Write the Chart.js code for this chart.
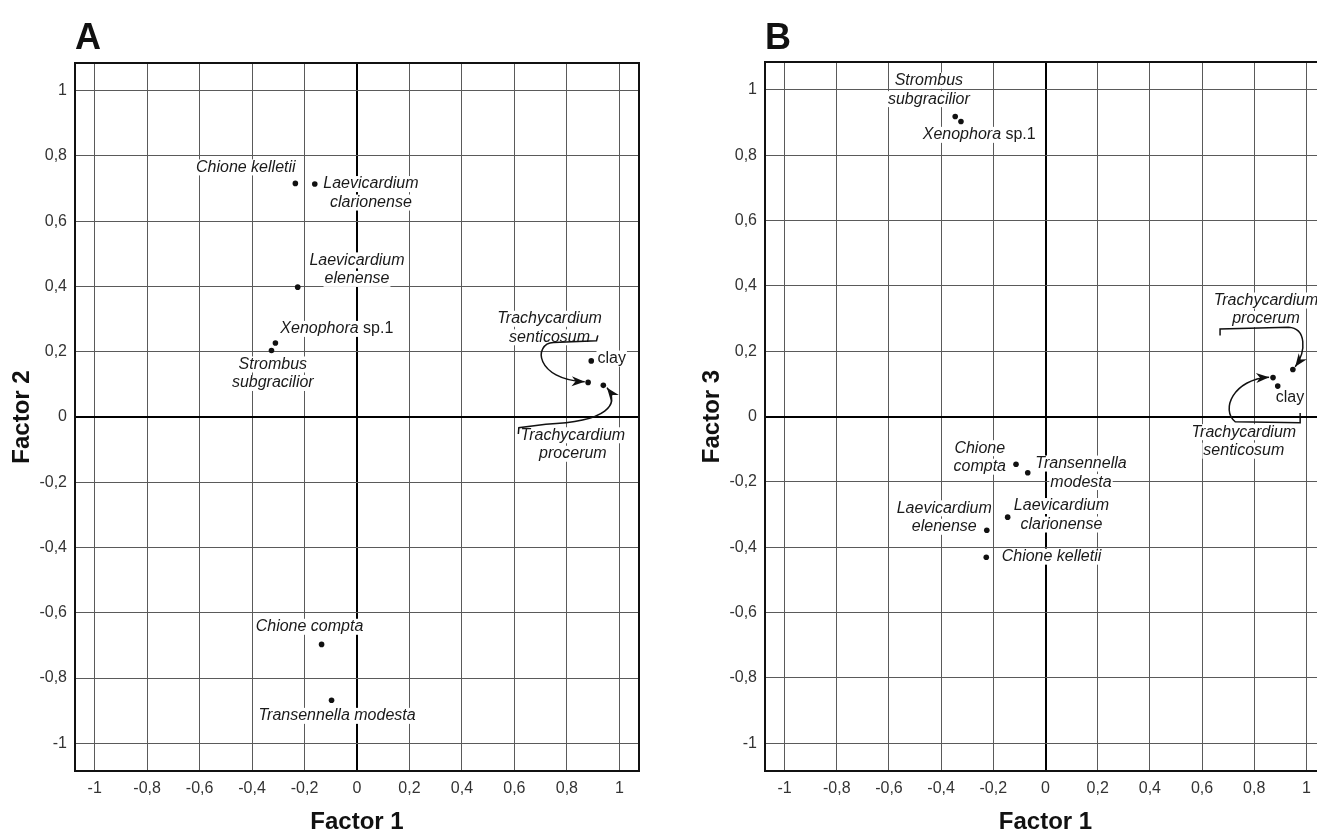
<!DOCTYPE html>
<html>
<head>
<meta charset="utf-8">
<script src="https://cdn.jsdelivr.net/npm/chart.js@4.4.1/dist/chart.umd.min.js"></script>
<style>
  html, body { margin: 0; padding: 0; background: #fff; overflow: hidden; width: 1317px; height: 834px; }
  .panel { position: absolute; top: 0; width: 660px; height: 834px; }
  #panelA { left: 0; }
  #panelB { left: 690px; }
  .letter { position: absolute; top: 19px; font: bold 36px 'Liberation Sans', Arial, sans-serif; line-height: 36px; color: #111; }
</style>
</head>
<body>
<div class="panel" id="panelA"><canvas id="chartA" width="660" height="834"></canvas></div>
<div class="panel" id="panelB"><canvas id="chartB" width="660" height="834"></canvas></div>
<div class="letter" style="left:75px">A</div>
<div class="letter" style="left:765px">B</div>
<script>
const FONT = "'Liberation Sans', Arial, sans-serif";

const species = ['Chione kelletii', 'Laevicardium clarionense', 'Laevicardium elenense', 'Xenophora sp.1',
  'Strombus subgracilior', 'Chione compta', 'Transennella modesta', 'Trachycardium senticosum',
  'Trachycardium procerum', 'clay'];

// Panel A: Factor 1 vs Factor 2
const factor1A = [-0.235, -0.161, -0.226, -0.311, -0.326, -0.135, -0.097, 0.881, 0.939, 0.893];
const factor2A = [0.716, 0.714, 0.398, 0.227, 0.204, -0.697, -0.868, 0.106, 0.097, 0.172];
// Panel B: Factor 1 vs Factor 3
const factor1B = [-0.227, -0.145, -0.225, -0.324, -0.346, -0.113, -0.068, 0.872, 0.948, 0.890];
const factor3B = [-0.431, -0.308, -0.348, 0.903, 0.918, -0.146, -0.172, 0.119, 0.144, 0.093];

const tickValues = [-1, -0.8, -0.6, -0.4, -0.2, 0, 0.2, 0.4, 0.6, 0.8, 1];
const uprightWords = ['sp.1', 'clay'];

// label placement: species index, text lines, centre of first line (data units)
const labelsA = [
  { i: 0, lines: ['Chione kelletii'], at: [-0.424, 0.765] },
  { i: 1, lines: ['Laevicardium', 'clarionense'], at: [0.053, 0.714] },
  { i: 2, lines: ['Laevicardium', 'elenense'], at: [0.0, 0.48] },
  { i: 3, lines: ['Xenophora sp.1'], at: [-0.077, 0.27] },
  { i: 4, lines: ['Strombus', 'subgracilior'], at: [-0.321, 0.161] },
  { i: 5, lines: ['Chione compta'], at: [-0.181, -0.643] },
  { i: 6, lines: ['Transennella modesta'], at: [-0.076, -0.916] },
  { i: 7, lines: ['Trachycardium', 'senticosum'], at: [0.734, 0.301] },
  { i: 8, lines: ['Trachycardium', 'procerum'], at: [0.823, -0.056] },
  { i: 9, lines: ['clay'], at: [0.971, 0.179] },
];
const labelsB = [
  { i: 0, lines: ['Chione kelletii'], at: [0.023, -0.429] },
  { i: 1, lines: ['Laevicardium', 'clarionense'], at: [0.061, -0.274] },
  { i: 2, lines: ['Laevicardium', 'elenense'], at: [-0.388, -0.281] },
  { i: 3, lines: ['Xenophora sp.1'], at: [-0.254, 0.862] },
  { i: 4, lines: ['Strombus', 'subgracilior'], at: [-0.447, 1.028] },
  { i: 5, lines: ['Chione', 'compta'], at: [-0.252, -0.097] },
  { i: 6, lines: ['Transennella', 'modesta'], at: [0.136, -0.144] },
  { i: 7, lines: ['Trachycardium', 'senticosum'], at: [0.76, -0.048] },
  { i: 8, lines: ['Trachycardium', 'procerum'], at: [0.845, 0.355] },
  { i: 9, lines: ['clay'], at: [0.937, 0.058] },
];

// leader arrows: bracket tick, start of curve, two control points, arrow tip (data units)
const arrowsA = [
  { tick: [[0.918, 0.25], [0.913, 0.234]], from: [0.749, 0.228], c1: [0.67, 0.225], c2: [0.68, 0.115], tip: [0.868, 0.108] },
  { tick: [[0.615, -0.052], [0.617, -0.033]], from: [0.72, -0.022], c1: [0.96, -0.015], c2: [1.0, 0.04], tip: [0.953, 0.09] },
];
const arrowsB = [
  { tick: [[0.669, 0.248], [0.669, 0.268]], from: [0.931, 0.273], c1: [1.0, 0.27], c2: [1.0, 0.2], tip: [0.957, 0.152] },
  { tick: [[0.976, 0.011], [0.976, -0.019]], from: [0.727, -0.016], c1: [0.67, 0.02], c2: [0.72, 0.115], tip: [0.857, 0.12] },
];

const fmt = v => String(v).replace('.', ',');

const annotationPlugin = {
  id: 'speciesNotes',
  beforeDatasetsDraw(chart, args, opts) {
    const { ctx, scales: { x, y } } = chart;
    ctx.save();
    // labels on white boxes (they knock out the grid, as in the print)
    ctx.textBaseline = 'middle';
    for (const lab of opts.labels) {
      const cx = x.getPixelForValue(lab.at[0]);
      let cy = y.getPixelForValue(lab.at[1]);
      for (const line of lab.lines) {
        const words = line.split(' ');
        const parts = words.map((w, k) => ({ t: (k ? ' ' : '') + w, up: uprightWords.includes(w) }));
        let total = 0;
        for (const p of parts) {
          ctx.font = (p.up ? '' : 'italic ') + '16px ' + FONT;
          p.w = ctx.measureText(p.t).width;
          total += p.w;
        }
        ctx.fillStyle = '#fff';
        ctx.fillRect(cx - total / 2 - 1, cy - 8, total + 2, 16);
        let px = cx - total / 2;
        ctx.fillStyle = '#1a1a1a';
        ctx.textAlign = 'left';
        for (const p of parts) {
          ctx.font = (p.up ? '' : 'italic ') + '16px ' + FONT;
          ctx.fillText(p.t, px, cy);
          px += p.w;
        }
        cy += 18.5;
      }
    }
    // arrows
    const P = pt => [x.getPixelForValue(pt[0]), y.getPixelForValue(pt[1])];
    ctx.strokeStyle = '#111';
    ctx.fillStyle = '#111';
    ctx.lineWidth = 1.5;
    for (const a of opts.arrows) {
      const t0 = P(a.tick[0]), t1 = P(a.tick[1]), f = P(a.from), c1 = P(a.c1), c2 = P(a.c2), tp = P(a.tip);
      ctx.beginPath();
      ctx.moveTo(t0[0], t0[1]);
      ctx.lineTo(t1[0], t1[1]);
      ctx.lineTo(f[0], f[1]);
      ctx.bezierCurveTo(c1[0], c1[1], c2[0], c2[1], tp[0], tp[1]);
      ctx.stroke();
      const ang = Math.atan2(tp[1] - c2[1], tp[0] - c2[0]);
      const len = 13, half = 5;
      ctx.beginPath();
      ctx.moveTo(tp[0], tp[1]);
      ctx.lineTo(tp[0] - len * Math.cos(ang) + half * Math.sin(ang), tp[1] - len * Math.sin(ang) - half * Math.cos(ang));
      ctx.lineTo(tp[0] - len * 0.7 * Math.cos(ang), tp[1] - len * 0.7 * Math.sin(ang));
      ctx.lineTo(tp[0] - len * Math.cos(ang) - half * Math.sin(ang), tp[1] - len * Math.sin(ang) + half * Math.cos(ang));
      ctx.closePath();
      ctx.fill();
    }
    ctx.restore();
  },
  afterDraw(chart) {
    const { ctx, chartArea: a } = chart;
    ctx.save();
    ctx.strokeStyle = '#111';
    ctx.lineWidth = 2;
    ctx.strokeRect(a.left, a.top, a.right - a.left, a.bottom - a.top);
    ctx.restore();
  }
};

function makePanel(canvasId, xs, ys, yTitle, labels, arrows, padRight, padTop) {
  const gridColor = c => c.tick && c.tick.value === 0 ? '#000' : '#5a5a5a';
  const gridWidth = c => c.tick && c.tick.value === 0 ? 2 : 1;
  const axis = (title, isX) => ({
    type: 'linear',
    min: isX ? -1.075 : -1.085,
    max: isX ? 1.075 : 1.085,
    afterBuildTicks: s => { s.ticks = tickValues.map(v => ({ value: v })); },
    afterFit: s => { if (isX) s.height = 63; else s.width = 75; },
    grid: { color: gridColor, lineWidth: gridWidth, drawTicks: false },
    border: { display: false },
    ticks: { color: '#333', padding: 8, font: { family: FONT, size: 16 }, callback: v => fmt(v), autoSkip: false, maxRotation: 0 },
    title: { display: true, text: title, color: '#111', font: { family: FONT, size: 24, weight: 'bold', lineHeight: 1 },
      padding: isX ? { bottom: 0 } : { top: 10 } }
  });
  return new Chart(document.getElementById(canvasId), {
    type: 'scatter',
    data: {
      labels: species,
      datasets: [{
        data: xs.map((v, k) => ({ x: v, y: ys[k] })),
        pointRadius: 2.8,
        pointHoverRadius: 2.8,
        backgroundColor: '#111',
        borderWidth: 0
      }]
    },
    plugins: [annotationPlugin],
    options: {
      responsive: false,
      animation: false,
      events: [],
      layout: { padding: { top: padTop, right: padRight, left: 0, bottom: 0 } },
      plugins: { legend: { display: false }, tooltip: { enabled: false }, speciesNotes: { labels, arrows } },
      scales: { x: axis('Factor 1', true), y: axis(yTitle, false) }
    }
  });
}

makePanel('chartA', factor1A, factor2A, 'Factor 2', labelsA, arrowsA, 21, 63);
makePanel('chartB', factor1B, factor3B, 'Factor 3', labelsB, arrowsB, 24, 62);
</script>
</body>
</html>
